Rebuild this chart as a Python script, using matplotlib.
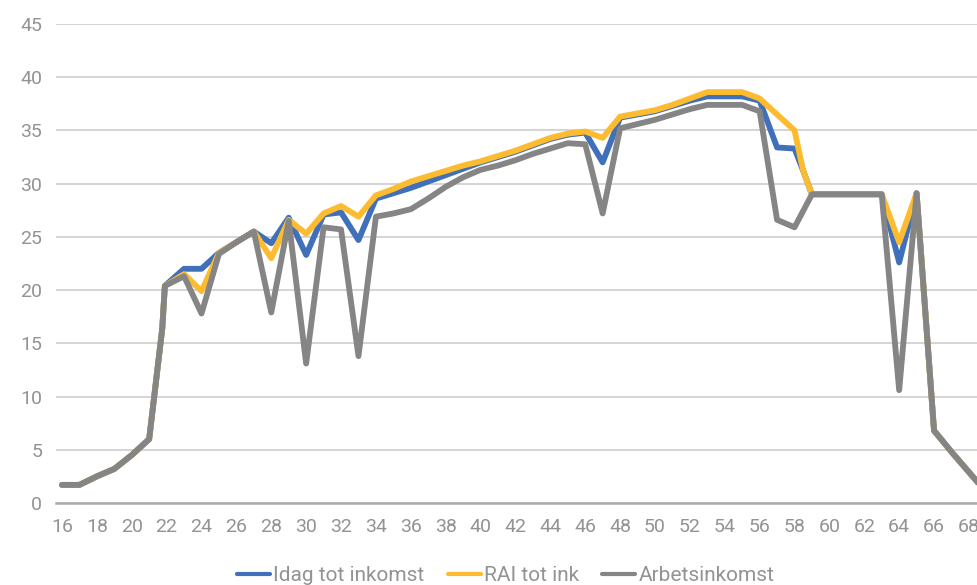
import matplotlib.pyplot as plt

plt.rcParams["font.family"] = ["Roboto", "DejaVu Sans"]

# Ages (shared by the two total-income series)
ages = [16, 17, 18, 19, 20, 21, 21.75, 21.9, 23, 24, 25, 26, 27, 28, 29, 30,
        31, 32, 33, 34, 35, 36, 37, 38, 39, 40, 41, 42, 43, 44, 45, 46, 47,
        48, 49, 50, 51, 52, 53, 54, 55, 56, 57, 58, 58.5, 59, 60, 61, 62, 63,
        64, 65, 66, 67, 68, 69]

idag_tot = [1.7, 1.7, 2.5, 3.2, 4.5, 6.0, 16.4, 20.4, 22.0, 22.0, 23.5, 24.5,
            25.5, 24.4, 26.8, 23.3, 27.1, 27.3, 24.7, 28.6, 29.1, 29.6, 30.2,
            30.8, 31.4, 32.0, 32.5, 33.0, 33.6, 34.2, 34.6, 34.8, 32.0, 36.2,
            36.5, 36.8, 37.3, 37.8, 38.2, 38.2, 38.2, 37.8, 33.4, 33.3, 31.2,
            29.0, 29.0, 29.0, 29.0, 29.0, 22.6, 29.1, 6.8, 4.8, 2.9, 1.0]

rai_tot = [1.7, 1.7, 2.5, 3.2, 4.5, 6.0, 16.4, 20.4, 21.5, 19.9, 23.5, 24.5,
           25.5, 23.0, 26.6, 25.3, 27.2, 27.9, 26.9, 28.9, 29.5, 30.2, 30.7,
           31.2, 31.7, 32.1, 32.6, 33.1, 33.7, 34.3, 34.7, 34.9, 34.3, 36.3,
           36.6, 36.9, 37.4, 38.0, 38.6, 38.6, 38.6, 38.0, 36.5, 35.0, 31.2,
           29.0, 29.0, 29.0, 29.0, 29.0, 24.5, 29.1, 6.8, 4.8, 2.9, 1.0]

# Labour income has no mid-year point at 58.5
arb_ages = [16, 17, 18, 19, 20, 21, 21.75, 21.9, 23, 24, 25, 26, 27, 28, 29,
            30, 31, 32, 33, 34, 35, 36, 37, 38, 39, 40, 41, 42, 43, 44, 45, 46,
            47, 48, 49, 50, 51, 52, 53, 54, 55, 56, 57, 58, 59, 60, 61, 62, 63,
            64, 65, 66, 67, 68, 69]

arbetsinkomst = [1.7, 1.7, 2.5, 3.2, 4.5, 6.0, 16.4, 20.4, 21.3, 17.8, 23.4,
                 24.5, 25.5, 17.9, 26.5, 13.1, 25.9, 25.7, 13.8, 26.9, 27.2,
                 27.6, 28.6, 29.7, 30.6, 31.3, 31.7, 32.2, 32.8, 33.3, 33.8,
                 33.7, 27.2, 35.2, 35.6, 36.0, 36.5, 37.0, 37.4, 37.4, 37.4,
                 36.8, 26.6, 25.9, 29.0, 29.0, 29.0, 29.0, 29.0, 10.6, 29.1,
                 6.8, 4.8, 2.9, 1.0]

labels = ["Idag tot inkomst", "RAI tot ink", "Arbetsinkomst"]
colors = ["#3F70B9", "#FDBB30", "#858585"]
text_color = "#939393"

fig = plt.figure(figsize=(9.78, 5.85), dpi=100)
ax = fig.add_axes([0.0573, 0.1402, 0.9427, 0.8188])

lw = 4.2
style = dict(lw=lw, solid_joinstyle="round", solid_capstyle="round")
ax.plot(ages, idag_tot, color=colors[0], label=labels[0], **style)
ax.plot(ages, rai_tot, color=colors[1], label=labels[1], **style)
ax.plot(arb_ages, arbetsinkomst, color=colors[2], label=labels[2], **style)

ax.set_xlim(15.66, 68.52)
ax.set_ylim(0, 45)
ax.set_xticks(range(16, 69, 2))
ax.set_yticks(range(0, 46, 5))

ax.grid(axis="y", color="#C9C9C9", lw=1.1)
ax.set_axisbelow(True)
for side in ["top", "right", "left"]:
    ax.spines[side].set_visible(False)
ax.spines["bottom"].set_color("#ABABAB")
ax.spines["bottom"].set_linewidth(1.8)

ax.tick_params(axis="both", length=0, labelsize=14, labelcolor=text_color)
ax.tick_params(axis="y", pad=10)
ax.tick_params(axis="x", pad=11)

leg = fig.legend(loc="center", bbox_to_anchor=(0.517, 0.016), ncol=3,
                 frameon=False, fontsize=15, handlelength=1.6,
                 handletextpad=0.15, columnspacing=1.1, labelcolor=text_color)
for h in leg.get_lines():
    h.set_linewidth(3.0)

fig.savefig("out.png", dpi=100)
